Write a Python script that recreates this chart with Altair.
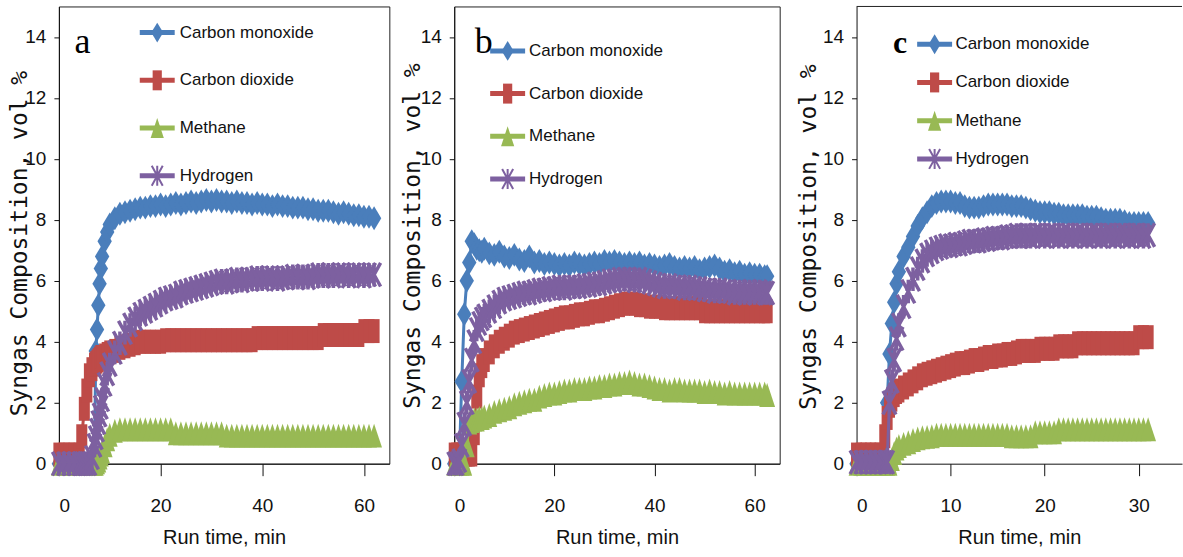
import altair as alt
import pandas as pd

# ---- series names and styling -------------------------------------------
SERIES = ["Carbon monoxide", "Carbon dioxide", "Methane", "Hydrogen"]
COLORS = ["#4A7EBB", "#BE4B48", "#98B954", "#7D60A0"]
# tall marker outlines in the -1..1 unit box
DIAMOND = "M0,-1L0.6,0L0,1L-0.6,0Z"
SQUARE = "M-0.46,-1H0.46V1H-0.46Z"
TRIANGLE = "M0,-1L0.66,1H-0.66Z"
STAR = "M-0.55,-1L0.55,1M0.55,-1L-0.55,1M0,-1V1"
STYLE = [(COLORS[0], DIAMOND, True), (COLORS[1], SQUARE, True),
         (COLORS[2], TRIANGLE, True), (COLORS[3], STAR, False)]

SANS = "Liberation Sans, Arial, sans-serif"
SERIF = "Liberation Serif, Times New Roman, serif"
MONO = "DejaVu Sans Mono, monospace"

# ---- run a ---------------------------------------------------------------
T_A = [0, 1, 2, 3, 4, 4.5, 5, 5.5, 6, 6.5, 7, 7.25, 7.5, 7.75, 8, 8.25, 8.5, 9, 9.5, 10,
       11, 12, 13, 14, 15, 16, 17, 18, 19, 20, 21, 22, 23, 24, 25, 26, 27, 28, 29, 30,
       31, 32, 33, 34, 35, 36, 37, 38, 39, 40, 41, 42, 43, 44, 45, 46, 47, 48, 49, 50,
       51, 52, 53, 54, 55, 56, 57, 58, 59, 60, 61, 62]
CO_A = [0, 0, 0, 0, 0, 0, 0, 0, 0, 0, 0, 3.7, 4.4, 5.2, 5.9, 6.4, 6.8, 7.3, 7.6, 7.85,
        8.05, 8.2, 8.25, 8.3, 8.35, 8.4, 8.4, 8.45, 8.45, 8.5,
        8.45, 8.5, 8.55, 8.5, 8.55, 8.6, 8.55, 8.6, 8.65, 8.6,
        8.65, 8.6, 8.6, 8.55, 8.6, 8.55, 8.55, 8.5, 8.55, 8.5,
        8.5, 8.45, 8.5, 8.45, 8.45, 8.4, 8.4, 8.4, 8.35, 8.35,
        8.3, 8.3, 8.3, 8.25, 8.2, 8.25, 8.2, 8.15, 8.15, 8.1,
        8.1, 8.05]
CO2_A = [0.3, 0.3, 0.3, 0.3, 0.3, 0.9, 1.8, 2.4, 2.9, 3.1, 3.25, 3.3, 3.35, 3.4, 3.45, 3.5, 3.5, 3.55, 3.6, 3.65,
         3.7, 3.8, 3.85, 3.9, 3.95, 4.0, 4.0, 4.0, 4.0, 4.0,
         4.05, 4.05, 4.05, 4.05, 4.05, 4.05, 4.05, 4.05, 4.05, 4.05,
         4.05, 4.05, 4.05, 4.05, 4.05, 4.05, 4.05, 4.05, 4.12, 4.12,
         4.12, 4.12, 4.12, 4.12, 4.12, 4.12, 4.12, 4.12, 4.12, 4.12,
         4.12, 4.22, 4.22, 4.22, 4.22, 4.22, 4.22, 4.22, 4.22, 4.35,
         4.35, 4.35]
CH4_A = [0, 0, 0, 0, 0, 0, 0, 0, 0, 0, 0, 0, 0.05, 0.1, 0.2, 0.3, 0.4, 0.6, 0.8, 0.95,
         1.08, 1.13, 1.13, 1.13, 1.13, 1.13, 1.13, 1.13, 1.13, 1.13,
         1.13, 1.13, 1.0, 1.0, 1.0, 1.0, 1.0, 1.0, 1.0, 1.0,
         1.0, 1.0, 0.92, 0.92, 0.92, 0.92, 0.92, 0.92, 0.92, 0.92,
         0.92, 0.92, 0.92, 0.92, 0.92, 0.92, 0.92, 0.92, 0.92, 0.92,
         0.92, 0.92, 0.92, 0.92, 0.92, 0.92, 0.92, 0.92, 0.92, 0.92,
         0.92, 0.92]
H2_A = [0, 0, 0, 0, 0, 0, 0, 0, 0, 0.2, 0.6, 0.85, 1.1, 1.35, 1.6, 1.85, 2.1, 2.6, 2.95, 3.25,
        3.65, 3.95, 4.3, 4.55, 4.75, 4.9, 5.0, 5.1, 5.2, 5.3,
        5.4, 5.45, 5.5, 5.6, 5.65, 5.7, 5.75, 5.8, 5.85, 5.9,
        5.95, 6.0, 5.95, 6.0, 6.05, 6.0, 6.05, 6.05, 6.1, 6.05,
        6.1, 6.1, 6.05, 6.1, 6.1, 6.15, 6.1, 6.15, 6.1, 6.15,
        6.2, 6.15, 6.2, 6.15, 6.2, 6.2, 6.15, 6.2, 6.2, 6.15,
        6.2, 6.2]

# ---- run b ---------------------------------------------------------------
T_B = [0, 0.5, 1, 1.5, 2, 2.5, 3, 3.5, 4, 4.5, 5, 5.5, 6,
       7, 8, 9, 10, 11, 12, 13, 14, 15, 16, 17, 18, 19, 20, 21, 22, 23, 24, 25, 26,
       27, 28, 29, 30, 31, 32, 33, 34, 35, 36, 37, 38, 39, 40, 41, 42, 43, 44, 45, 46,
       47, 48, 49, 50, 51, 52, 53, 54, 55, 56, 57, 58, 59, 60, 61, 62, 62.5]
CO_B = [0, 0, 0, 2.7, 4.9, 6.0, 6.6, 7.3, 7.2, 7.05, 7.0, 6.95, 7.05,
        6.9, 6.85, 6.95, 6.8, 6.75, 6.85, 6.7, 6.65, 6.8, 6.6,
        6.65, 6.55, 6.6, 6.55, 6.5, 6.55, 6.5, 6.6, 6.55, 6.5,
        6.55, 6.6, 6.55, 6.65, 6.6, 6.65, 6.6, 6.55, 6.6, 6.55,
        6.6, 6.5, 6.55, 6.5, 6.45, 6.5, 6.55, 6.45, 6.4, 6.45,
        6.4, 6.45, 6.35, 6.4, 6.45, 6.5, 6.4, 6.3, 6.35, 6.25,
        6.3, 6.2, 6.25, 6.2, 6.2, 6.15, 6.15]
CO2_B = [0.3, 0.3, 0.3, 0.3, 0.3, 0.3, 0.3, 0.3, 1.0, 2.2, 2.9, 3.2, 3.4,
         3.65, 3.85, 4.0, 4.1, 4.2, 4.3, 4.35, 4.4, 4.45, 4.5,
         4.55, 4.6, 4.65, 4.7, 4.75, 4.8, 4.8, 4.85, 4.9, 4.9,
         4.95, 5.0, 5.0, 5.05, 5.1, 5.15, 5.2, 5.25, 5.25, 5.25,
         5.2, 5.2, 5.15, 5.15, 5.15, 5.1, 5.1, 5.1, 5.1, 5.1,
         5.1, 5.1, 5.1, 5.0, 5.0, 5.0, 5.0, 5.0, 5.0, 5.0,
         5.0, 5.0, 5.0, 5.0, 5.0, 5.0, 5.0]
CH4_B = [0, 0, 0, 0, 0, 0.6, 1.35, 1.4, 1.45, 1.45, 1.5, 1.5, 1.55,
         1.6, 1.7, 1.75, 1.8, 1.85, 1.95, 2.0, 2.05, 2.1, 2.1,
         2.2, 2.25, 2.3, 2.3, 2.35, 2.4, 2.4, 2.45, 2.45, 2.45,
         2.5, 2.5, 2.55, 2.55, 2.6, 2.6, 2.65, 2.65, 2.7, 2.65,
         2.6, 2.6, 2.55, 2.5, 2.45, 2.45, 2.4, 2.45, 2.45, 2.4,
         2.4, 2.4, 2.4, 2.35, 2.4, 2.35, 2.35, 2.3, 2.35, 2.3,
         2.3, 2.3, 2.3, 2.3, 2.3, 2.3, 2.25]
H2_B = [0, 0, 0.1, 0.6, 1.3, 2.0, 2.7, 3.4, 4.0, 4.4, 4.6, 4.75, 4.85,
        5.0, 5.15, 5.3, 5.4, 5.45, 5.5, 5.55, 5.6, 5.6, 5.65,
        5.7, 5.7, 5.75, 5.75, 5.8, 5.75, 5.8, 5.8, 5.8, 5.85,
        5.85, 5.9, 5.9, 5.95, 6.0, 6.0, 6.05, 6.05, 6.05, 6.0,
        6.05, 6.0, 5.95, 5.9, 5.85, 5.8, 5.85, 5.8, 5.8, 5.75,
        5.8, 5.75, 5.75, 5.7, 5.7, 5.65, 5.7, 5.65, 5.65, 5.6,
        5.65, 5.6, 5.65, 5.6, 5.65, 5.6, 5.6]

# ---- run c ---------------------------------------------------------------
T_C = [0, 0.5, 1, 1.5, 2, 2.5, 3, 3.25, 3.5, 3.75, 4, 4.25, 4.5,
       5, 5.5, 6, 6.5, 7, 7.5, 8, 8.5, 9, 9.5,
       10, 10.5, 11, 11.5, 12, 12.5, 13, 13.5, 14, 14.5,
       15, 15.5, 16, 16.5, 17, 17.5, 18, 18.5, 19, 19.5,
       20, 20.5, 21, 21.5, 22, 22.5, 23, 23.5, 24, 24.5,
       25, 25.5, 26, 26.5, 27, 27.5, 28, 28.5, 29, 29.5,
       30, 30.5, 31]
CO_C = [0, 0, 0, 0, 0, 0, 0, 2.0, 3.6, 4.6, 5.3, 5.9, 6.3,
        6.8, 7.1, 7.45, 7.8, 8.05, 8.25, 8.45, 8.55, 8.6, 8.6,
        8.6, 8.55, 8.55, 8.45, 8.4, 8.4, 8.4, 8.45, 8.5, 8.5,
        8.5, 8.5, 8.5, 8.45, 8.45, 8.45, 8.4, 8.35, 8.3, 8.25,
        8.25, 8.25, 8.2, 8.2, 8.15, 8.15, 8.15, 8.15, 8.15, 8.1,
        8.1, 8.1, 8.05, 8.0, 8.0, 8.0, 8.0, 7.95, 7.9, 7.9,
        7.9, 7.9, 7.9]
CO2_C = [0.3, 0.3, 0.3, 0.3, 0.3, 0.3, 0.9, 1.5, 1.9, 2.1, 2.25, 2.35, 2.4,
         2.5, 2.6, 2.7, 2.8, 2.9, 2.95, 3.0, 3.05, 3.1, 3.15,
         3.2, 3.25, 3.3, 3.3, 3.35, 3.4, 3.4, 3.45, 3.5, 3.5,
         3.55, 3.55, 3.6, 3.6, 3.65, 3.7, 3.7, 3.7, 3.7, 3.77,
         3.77, 3.77, 3.77, 3.85, 3.85, 3.85, 3.85, 3.95, 3.95, 3.95,
         3.95, 3.95, 3.95, 3.95, 3.95, 3.95, 3.95, 3.95, 3.95, 3.95,
         4.15, 4.15, 4.15]
CH4_C = [0, 0, 0, 0, 0, 0, 0, 0, 0, 0.15, 0.35, 0.5, 0.58,
         0.65, 0.7, 0.78, 0.83, 0.87, 0.88, 0.9, 0.95, 0.95, 0.95,
         0.95, 0.95, 0.95, 0.95, 0.95, 0.95, 0.95, 0.95, 0.95, 0.95,
         0.95, 0.95, 0.95, 0.9, 0.9, 0.9, 0.9, 0.9, 1.03, 1.03,
         1.03, 1.03, 1.03, 1.13, 1.13, 1.13, 1.13, 1.13, 1.13, 1.13,
         1.13, 1.13, 1.13, 1.13, 1.13, 1.13, 1.13, 1.13, 1.13, 1.13,
         1.13, 1.13, 1.13]
H2_C = [0.05, 0.05, 0.05, 0.05, 0.05, 0.05, 0.05, 0.05, 2.0, 2.7, 3.4, 4.1, 4.55,
        5.15, 5.65, 6.05, 6.4, 6.65, 6.85, 6.95, 7.05, 7.1, 7.15,
        7.15, 7.2, 7.2, 7.25, 7.3, 7.3, 7.3, 7.35, 7.35, 7.4,
        7.4, 7.4, 7.45, 7.45, 7.5, 7.45, 7.5, 7.45, 7.5, 7.5,
        7.45, 7.5, 7.5, 7.45, 7.5, 7.5, 7.45, 7.5, 7.5, 7.45,
        7.5, 7.5, 7.45, 7.5, 7.5, 7.45, 7.5, 7.5, 7.45, 7.5,
        7.5, 7.45, 7.5]

PANEL_LETTERS = ["a", "b", "c"]
Y_TICKS = [0, 2, 4, 6, 8, 10, 12, 14]
PLOT_H = 458


def panel(times, values, xmax, width, xticks, letter, letter_pos, letter_style,
          legend_geom, title_pos, framed):
    for v in values:
        assert len(v) == len(times)
    x_axis = alt.Axis(values=xticks, tickSize=12, labelPadding=21, labelFont=SANS,
                      labelFontSize=19, labelColor="#111", domainColor="#111",
                      tickColor="#111", grid=False, title="Run time, min",
                      titleFont=SANS, titleFontSize=20, titleFontWeight="normal",
                      titleColor="#111", titlePadding=12)
    y_axis = alt.Axis(values=Y_TICKS, tickSize=5, labelPadding=8, labelFont=SANS,
                      labelFontSize=19, labelColor="#111", domainColor="#111",
                      tickColor="#111", grid=False, title="Syngas Composition, vol %",
                      titleFont=MONO, titleFontSize=23, titleFontWeight="normal",
                      titleColor="#111", titleAngle=270, titleAlign="center",
                      titleBaseline="middle", titleX=title_pos[0], titleY=title_pos[1])
    layers = []
    for vals, (color, path, filled) in zip(values, STYLE):
        df = pd.DataFrame({"t": times, "v": vals})
        base = alt.Chart(df).encode(
            x=alt.X("t:Q", scale=alt.Scale(domain=[0, xmax], nice=False, zero=False), axis=x_axis),
            y=alt.Y("v:Q", scale=alt.Scale(domain=[0, 15], nice=False), axis=y_axis),
        )
        layers.append(base.mark_line(color=color, strokeWidth=3))
        if filled:
            layers.append(base.mark_point(shape=path, filled=True, color=color, size=576, opacity=1))
        else:
            layers.append(base.mark_point(shape=path, filled=False, color=color, size=560,
                                          strokeWidth=3.5, opacity=1))

    # in-panel legend: line swatch with marker, then the series name
    lx0, lx1, tx, ly0, dy = legend_geom
    leg = pd.DataFrame({"series": SERIES, "row": [0, 1, 2, 3]})
    lbase = alt.Chart(leg).transform_calculate(ly=f"{ly0} + datum.row * {dy}").encode(
        y=alt.Y("ly:Q", scale=None, axis=None))
    layers.append(lbase.mark_rule(strokeWidth=5).encode(
        x=alt.value(lx0), x2=alt.value(lx1),
        color=alt.Color("series:N", scale=alt.Scale(domain=SERIES, range=COLORS), legend=None)))
    for name, (color, path, filled) in zip(SERIES, STYLE):
        layers.append(lbase.transform_filter(alt.datum.series == name).mark_point(
            shape=path, filled=filled, color=color, size=400, strokeWidth=2, opacity=1
        ).encode(x=alt.value((lx0 + lx1) / 2)))
    layers.append(lbase.mark_text(align="left", baseline="middle", font=SANS, fontSize=17,
                                  color="#111").encode(x=alt.value(tx), text="series:N"))

    # panel letter
    size, weight = letter_style
    layers.append(alt.Chart(pd.DataFrame({"letter": [letter]})).mark_text(
        font=SERIF, fontSize=size, fontWeight=weight, align="center", baseline="alphabetic",
        color="#000").encode(x=alt.value(letter_pos[0]), y=alt.value(letter_pos[1]), text="letter:N"))

    if framed:
        view = alt.ViewBackground(stroke="#222", strokeWidth=1)
    else:
        view = alt.ViewBackground(strokeOpacity=0)
        layers.append(alt.Chart(pd.DataFrame({"edge": [0]})).mark_rule(color="#222", strokeWidth=1).encode(
            x=alt.value(0), x2=alt.value(width), y=alt.value(0)))
    return alt.layer(*layers).properties(width=width, height=PLOT_H, view=view)


pa = panel(T_A, [CO_A, CO2_A, CH4_A, H2_A], 65, 331, [0, 20, 40, 60], PANEL_LETTERS[0],
           (23.5, 46.5), (36, "normal"), (81, 116, 121, 26.2, 47.8), (-39, 237), True)
pb = panel(T_B, [CO_B, CO2_B, CH4_B, H2_B], 65, 326, [0, 20, 40, 60], PANEL_LETTERS[1],
           (29.5, 46.5), (36, "normal"), (36, 71, 75, 44.5, 42.8), (-41.5, 229.5), True)
pc = panel(T_C, [CO_C, CO2_C, CH4_C, H2_C], 34.6, 326, [0, 10, 20, 30], PANEL_LETTERS[2],
           (43.5, 46.5), (32, "bold"), (60.7, 95.7, 99, 37.8, 38.3), (-48.5, 230.5), False)

chart = alt.hconcat(pa, alt.hconcat(pb, pc, spacing=15), spacing=10).properties(
    padding={"left": 8, "top": 5, "right": 0, "bottom": 2},
    background="white",
)

chart.save("out.html", embed_options={"renderer": "svg", "actions": False})
